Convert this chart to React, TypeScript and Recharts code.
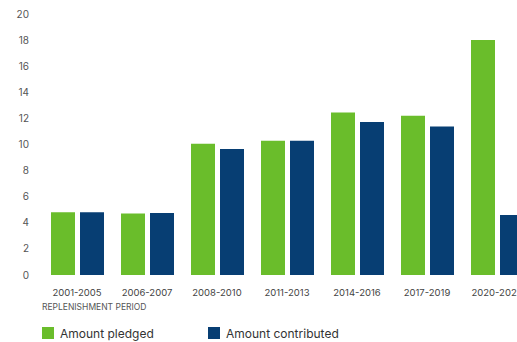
import React from "react";
import { BarChart, Bar, XAxis, YAxis, Legend } from "recharts";

const periods = [
  "2001-2005",
  "2006-2007",
  "2008-2010",
  "2011-2013",
  "2014-2016",
  "2017-2019",
  "2020-2022",
];
const pledged = [4.8, 4.72, 10.05, 10.28, 12.45, 12.2, 18];
const contributed = [4.8, 4.75, 9.65, 10.28, 11.72, 11.38, 4.6];
const yTicks = [0, 2, 4, 6, 8, 10, 12, 14, 16, 18, 20];

const GREEN = "#6abd2b";
const BLUE = "#073e73";
const FONT = "Inter, 'Open Sans', sans-serif";

const seriesOrder = [
  { name: "Amount pledged", color: GREEN },
  { name: "Amount contributed", color: BLUE },
];

const data = periods.map((period, i) => ({
  period,
  pledged: pledged[i],
  contributed: contributed[i],
}));

const LegendBox = () => (
  <div style={{ fontFamily: FONT, paddingLeft: 42 }}>
    <div
      style={{
        fontSize: 8.5,
        color: "#555",
        height: 14,
        lineHeight: "14px",
        marginBottom: 12,
      }}
    >
      REPLENISHMENT PERIOD
    </div>
    <div style={{ display: "flex", alignItems: "center", height: 14 }}>
      {seriesOrder.map((s) => (
        <div
          key={s.name}
          style={{ display: "flex", alignItems: "center", width: 166 }}
        >
          <div
            style={{
              width: 12,
              height: 12,
              background: s.color,
              marginRight: 6,
            }}
          />
          <span style={{ fontSize: 12, color: "#333" }}>{s.name}</span>
        </div>
      ))}
    </div>
  </div>
);

export default function App() {
  return (
    <div
      style={{
        position: "absolute",
        left: 0,
        top: 0,
        width: 517,
        height: 342,
        overflow: "hidden",
        background: "#fff",
      }}
    >
      <BarChart
        width={532}
        height={342}
        data={data}
        margin={{ top: 14, right: 0, left: 0, bottom: 0 }}
        barGap={5}
        barSize={24}
      >
        <XAxis
          dataKey="period"
          axisLine={false}
          tickLine={false}
          height={25}
          tickMargin={8}
          interval={0}
          tick={{ fontSize: 9.5, fill: "#444", fontFamily: FONT }}
        />
        <YAxis
          domain={[0, 20]}
          ticks={yTicks}
          width={42}
          axisLine={false}
          tickLine={false}
          tickMargin={7}
          tick={{ fontSize: 10, fill: "#555", fontFamily: FONT }}
        />
        <Legend
          verticalAlign="bottom"
          align="left"
          content={<LegendBox />}
          wrapperStyle={{ height: 42, left: 0 }}
        />
        <Bar
          dataKey="pledged"
          name="Amount pledged"
          fill={GREEN}
          isAnimationActive={false}
        />
        <Bar
          dataKey="contributed"
          name="Amount contributed"
          fill={BLUE}
          isAnimationActive={false}
        />
      </BarChart>
    </div>
  );
}
